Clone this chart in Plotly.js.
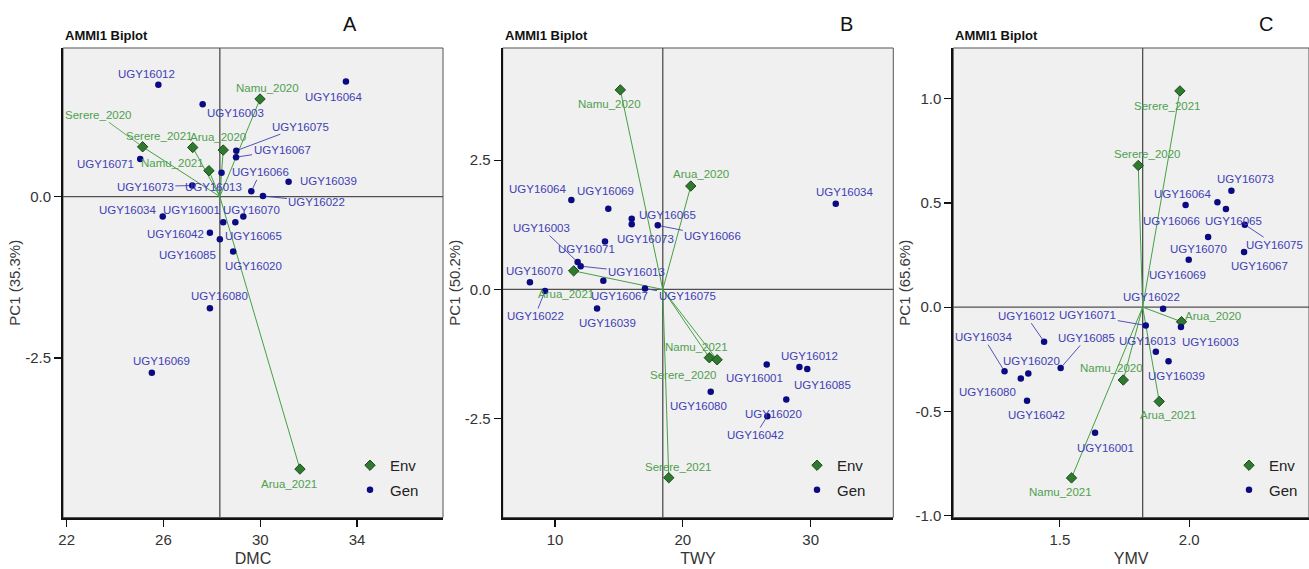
<!DOCTYPE html>
<html>
<head>
<meta charset="utf-8">
<script src="https://cdn.plot.ly/plotly-3.0.1.min.js"></script>
<style>html,body{margin:0;padding:0;background:#fff;}#chart{width:1309px;height:569px;}</style>
</head>
<body>
<div id="chart"></div>
<script>
// ---------------- DATA ----------------
const genotypes = ['UGY16001','UGY16003','UGY16012','UGY16013','UGY16020','UGY16022','UGY16034','UGY16039','UGY16042','UGY16064',
                   'UGY16065','UGY16066','UGY16067','UGY16069','UGY16070','UGY16071','UGY16073','UGY16075','UGY16080','UGY16085'];
const environments = ['Arua_2020','Arua_2021','Namu_2020','Namu_2021','Serere_2020','Serere_2021'];

// Panel A : DMC
const dmcGenMean = [28.47,27.62,25.79,28.40,28.88,30.11,25.97,31.17,27.92,33.54,28.97,29.63,29.00,25.52,29.30,25.04,27.19,29.01,27.92,28.33];
const dmcGenPC1  = [-0.40,1.43,1.73,0.37,-0.85,0.01,-0.31,0.23,-0.56,1.78,-0.40,0.08,0.61,-2.73,-0.31,0.58,0.17,0.71,-1.73,-0.66];
const dmcEnvMean = [28.47,31.64,29.99,27.88,25.14,27.21];
const dmcEnvPC1  = [0.72,-4.22,1.51,0.40,0.77,0.76];
const dmcGrandMean = 28.33;
const dmcXTicks = [22,26,30,34];
const dmcXTickText = ['22','26','30','34'];
const dmcYTicks = [-2.5,0];
const dmcYTickText = ['-2.5','0.0'];

// Panel B : TWY
const twyGenMean = [26.56,11.77,29.12,12.01,28.09,9.22,31.96,13.29,26.61,11.28,16.00,18.04,13.78,14.17,8.04,13.91,16.00,17.04,22.18,29.73];
const twyGenPC1  = [-1.45,0.53,-1.50,0.45,-2.13,-0.03,1.66,-0.37,-2.45,1.73,1.37,1.24,0.17,1.56,0.14,0.93,1.26,0.02,-1.98,-1.54];
const twyEnvMean = [20.62,11.46,15.11,22.07,22.68,18.90];
const twyEnvPC1  = [2.00,0.36,3.86,-1.32,-1.36,-3.64];
const twyGrandMean = 18.43;
const twyXTicks = [10,20,30];
const twyXTickText = ['10','20','30'];
const twyYTicks = [-2.5,0,2.5];
const twyYTickText = ['-2.5','0.0','2.5'];

// Panel C : YMV
const ymvGenMean = [1.636,1.968,1.439,1.871,1.378,1.899,1.286,1.920,1.373,2.109,2.142,1.986,2.212,1.998,2.073,1.832,2.163,2.215,1.349,1.503];
const ymvGenPC1  = [-0.603,-0.096,-0.166,-0.214,-0.319,-0.008,-0.308,-0.260,-0.450,0.503,0.471,0.490,0.265,0.228,0.337,-0.088,0.559,0.396,-0.343,-0.292];
const ymvEnvMean = [1.970,1.884,1.745,1.545,1.803,1.964];
const ymvEnvPC1  = [-0.070,-0.453,-0.350,-0.820,0.680,1.038];
const ymvGrandMean = 1.82;
const ymvXTicks = [1.5,2.0];
const ymvXTickText = ['1.5','2.0'];
const ymvYTicks = [-1,-0.5,0,0.5,1];
const ymvYTickText = ['-1.0','-0.5','0.0','0.5','1.0'];

// ---------------- STYLE / LAYOUT (label placement in pixels: [dx, dy, leaderLine]) ----------------
const labelOffsetsA = {
  UGY16001:[-32,-12,0],UGY16003:[33,9,0],UGY16012:[-12,-11,0],UGY16013:[-8,14,0],UGY16020:[20,15,0],
  UGY16022:[54,6,1],UGY16034:[-35,-7,0],UGY16039:[40,-1,0],UGY16042:[-34,1,0],UGY16064:[-12,15,0],
  UGY16065:[18,14,0],UGY16066:[9,-19,1],UGY16067:[46,-7,1],UGY16069:[10,-12,0],UGY16070:[8,-7,0],
  UGY16071:[-35,5,0],UGY16073:[-47,1,1],UGY16075:[64,-24,1],UGY16080:[10,-12,0],UGY16085:[-32,16,0],
  Arua_2020:[-5,-13,0],Arua_2021:[-11,15,0],Namu_2020:[7,-11,0],Namu_2021:[-36,-8,0],Serere_2020:[-44,-32,1],Serere_2021:[-33,-11,0]
};
const labelOffsetsB = {
  UGY16001:[-12,14,0],UGY16003:[-36,-34,1],UGY16012:[10,-11,0],UGY16013:[56,6,1],UGY16020:[-13,14,0],
  UGY16022:[-10,25,1],UGY16034:[9,-12,0],UGY16039:[10,14,0],UGY16042:[-12,19,1],UGY16064:[-33,-11,0],
  UGY16065:[36,-4,0],UGY16066:[55,11,1],UGY16067:[16,15,0],UGY16069:[-3,-18,0],UGY16070:[5,-11,0],
  UGY16071:[-18,8,0],UGY16073:[14,15,0],UGY16075:[42,8,1],UGY16080:[-12,14,0],UGY16085:[15,16,0],
  Arua_2020:[10,-12,0],Arua_2021:[-8,23,0],Namu_2020:[-11,14,0],Namu_2021:[-13,-11,0],Serere_2020:[-34,15,0],Serere_2021:[10,-11,0]
};
const labelOffsetsC = {
  UGY16001:[10,15,0],UGY16003:[30,15,0],UGY16012:[-18,-26,1],UGY16013:[-8,-11,0],UGY16020:[3,-13,0],
  UGY16022:[-12,-12,0],UGY16034:[-21,-34,1],UGY16039:[8,15,0],UGY16042:[9,14,0],UGY16064:[-34,-8,0],
  UGY16065:[8,12,0],UGY16066:[-14,16,0],UGY16067:[15,14,0],UGY16069:[-11,15,0],UGY16070:[-10,12,0],
  UGY16071:[-58,-10,1],UGY16073:[14,-12,0],UGY16075:[30,20,1],UGY16080:[-33,13,0],UGY16085:[26,-30,1],
  Arua_2020:[32,-6,0],Arua_2021:[9,14,0],Namu_2020:[-12,-12,0],Namu_2021:[-11,14,0],Serere_2020:[9,-11,0],Serere_2021:[-12,15,0]
};

const W = 1309, H = 569;
const FONT = '"Liberation Sans", Arial, sans-serif';
const GEN_COLOR = '#0a0a82';
const GEN_LABEL = '#4040b4';
const ENV_FILL = '#2f7a2f';
const ENV_EDGE = '#1c4a1c';
const ENV_LABEL = '#4f9f4f';
const ENV_LINE = '#45a045';

const panels = [
  {id:'', letter:'A', xt:'DMC', yt:'PC1 (35.3%)', gx:dmcGenMean, gy:dmcGenPC1, ex:dmcEnvMean, ey:dmcEnvPC1, m:dmcGrandMean,
   xticks:dmcXTicks, xtext:dmcXTickText, yticks:dmcYTicks, ytext:dmcYTickText, off:labelOffsetsA,
   px:[63,443], xr:[21.85,37.55], yr:[-4.97,2.30], letterX:350, legendX:350},
  {id:'2', letter:'B', xt:'TWY', yt:'PC1 (50.2%)', gx:twyGenMean, gy:twyGenPC1, ex:twyEnvMean, ey:twyEnvPC1, m:twyGrandMean,
   xticks:twyXTicks, xtext:twyXTickText, yticks:twyYTicks, ytext:twyYTickText, off:labelOffsetsB,
   px:[502.7,893.3], xr:[5.91,36.46], yr:[-4.41,4.67], letterX:846, legendX:797},
  {id:'3', letter:'C', xt:'YMV', yt:'PC1 (65.6%)', gx:ymvGenMean, gy:ymvGenPC1, ex:ymvEnvMean, ey:ymvEnvPC1, m:ymvGrandMean,
   xticks:ymvXTicks, xtext:ymvXTickText, yticks:ymvYTicks, ytext:ymvYTickText, off:labelOffsetsC,
   px:[953.3,1309], xr:[1.088,2.463], yr:[-1.01,1.244], letterX:1266, legendX:1229}
];

const PLOT_TOP = 48, PLOT_BOTTOM = 517.5;
const yDomain = [1 - PLOT_BOTTOM / H, 1 - PLOT_TOP / H];

const traces = [];
const annotations = [];
const shapes = [];
const layout = {
  width: W, height: H,
  margin: {l:0, r:0, t:0, b:0},
  paper_bgcolor: '#ffffff',
  plot_bgcolor: '#f0f0f0',
  font: {family: FONT, color: '#222'},
  showlegend: true,
  hovermode: false
};

panels.forEach((p, i) => {
  const xa = 'x' + p.id, ya = 'y' + p.id;
  const legendName = i === 0 ? 'legend' : 'legend' + (i + 1);

  // env vectors from grand-mean origin
  const lx = [], ly = [];
  p.ex.forEach((v, k) => { lx.push(p.m, v, null); ly.push(0, p.ey[k], null); });
  traces.push({type:'scatter', mode:'lines', x:lx, y:ly, xaxis:xa, yaxis:ya,
    line:{color:ENV_LINE, width:1}, showlegend:false, hoverinfo:'skip'});

  traces.push({type:'scatter', mode:'markers', name:'Env', x:p.ex, y:p.ey, xaxis:xa, yaxis:ya,
    marker:{symbol:'diamond', size:8, color:ENV_FILL, line:{color:ENV_EDGE, width:1}},
    legend:legendName, legendgroup:'env'+i});
  traces.push({type:'scatter', mode:'markers', name:'Gen', x:p.gx, y:p.gy, xaxis:xa, yaxis:ya,
    marker:{symbol:'circle', size:6.5, color:GEN_COLOR},
    legend:legendName, legendgroup:'gen'+i});

  const axisCommon = {
    showgrid:false, zeroline:false, showline:true, linecolor:'#111', linewidth:2,
    ticks:'outside', ticklen:7, tickwidth:1.2, tickcolor:'#111',
    tickfont:{family:FONT, size:15, color:'#333'}, tickmode:'array', automargin:false, fixedrange:true
  };
  layout['xaxis' + p.id] = Object.assign({}, axisCommon, {
    domain:[p.px[0]/W, p.px[1]/W], range:p.xr, anchor:ya,
    tickvals:p.xticks, ticktext:p.xtext,
    title:{text:p.xt, font:{family:FONT, size:16, color:'#333'}, standoff:6}
  });
  layout['yaxis' + p.id] = Object.assign({}, axisCommon, {
    domain:yDomain, range:p.yr, anchor:xa,
    tickvals:p.yticks, ticktext:p.ytext,
    title:{text:p.yt, font:{family:FONT, size:15, color:'#3a3a3a'}, standoff:1}
  });

  // frame
  shapes.push({type:'rect', xref:xa+' domain', yref:ya+' domain', x0:0, x1:1, y0:0, y1:1,
    line:{color:'#555', width:1}, layer:'below'});
  // reference lines
  shapes.push({type:'line', xref:xa, yref:ya+' domain', x0:p.m, x1:p.m, y0:0, y1:1,
    line:{color:'#505050', width:1.3}, layer:'below'});
  shapes.push({type:'line', xref:xa+' domain', yref:ya, x0:0, x1:1, y0:0, y1:0,
    line:{color:'#505050', width:1.3}, layer:'below'});

  // labels
  const addLabel = (name, x, y, color, size) => {
    const o = p.off[name] || [0,-12,0];
    const a = {xref:xa, yref:ya, x:x, y:y, text:name,
      font:{family:FONT, size:size, color:color}};
    if (o[2]) {
      Object.assign(a, {showarrow:true, ax:o[0], ay:o[1], arrowhead:0, arrowwidth:0.9,
        arrowcolor:color, standoff:3, startstandoff:0});
    } else {
      Object.assign(a, {showarrow:false, xshift:o[0], yshift:-o[1]});
    }
    annotations.push(a);
  };
  genotypes.forEach((g, k) => addLabel(g, p.gx[k], p.gy[k], GEN_LABEL, 11.5));
  environments.forEach((e, k) => addLabel(e, p.ex[k], p.ey[k], ENV_LABEL, 11.5));

  // panel title + letter
  annotations.push({xref:'paper', yref:'paper', x:p.px[0]/W, y:1-35/H, xanchor:'left', yanchor:'middle',
    text:'<b>AMMI1 Biplot</b>', showarrow:false, font:{family:FONT, size:13, color:'#111'}});
  annotations.push({xref:'paper', yref:'paper', x:p.letterX/W, y:1-24/H, xanchor:'center', yanchor:'middle',
    text:p.letter, showarrow:false, font:{family:FONT, size:20, color:'#111'}});

  layout[legendName] = {x:p.legendX/W, y:1-449/H, xanchor:'left', yanchor:'top',
    bgcolor:'rgba(0,0,0,0)', borderwidth:0, font:{family:FONT, size:15, color:'#222'},
    traceorder:'grouped', tracegroupgap:2};
});

layout.annotations = annotations;
layout.shapes = shapes;

Plotly.newPlot('chart', traces, layout, {staticPlot:true, displayModeBar:false});
</script>
</body>
</html>
